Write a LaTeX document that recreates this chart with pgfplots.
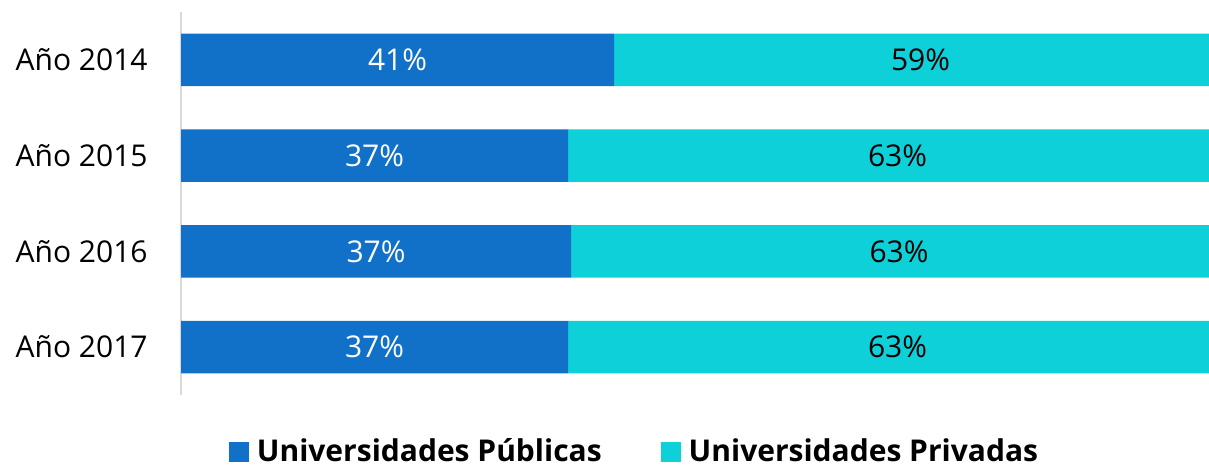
\documentclass[border=0pt]{standalone}
\usepackage{pgfplots}
\pgfplotsset{compat=1.18}
\usepackage{fontspec}
\setmainfont{Open Sans}
\definecolor{cblue}{HTML}{1170C8}
\definecolor{ccyan}{HTML}{0ED0D8}
\definecolor{axgray}{HTML}{D9D9D9}
\begin{document}
\begin{tikzpicture}
\path[use as bounding box] (0,0) rectangle (604.5bp,233.5bp);
\begin{axis}[
  at={(90.5bp,36bp)}, anchor=south west,
  scale only axis, width=523bp, height=191.5bp,
  xbar stacked, bar width=0.55,
  xmin=0, xmax=100, ymin=-0.5, ymax=3.5,
  axis x line=none, axis y line*=left,
  y axis line style={draw=axgray, line width=1bp},
  ytick={0,1,2,3}, yticklabels={Año 2017,Año 2016,Año 2015,Año 2014},
  major tick length=0pt,
  yticklabel style={font=\fontsize{15bp}{18bp}\selectfont, inner sep=0pt, xshift=-16.5bp},
  legend style={at={(axis description cs:0.4345,-0.1488)}, anchor=center, draw=none,
    font=\bfseries\fontsize{15bp}{17bp}\selectfont, legend columns=2,
    /tikz/every even column/.append style={column sep=27.5bp}},
  legend image code/.code={\fill[#1] (0bp,-5bp) rectangle (10bp,5bp); \path (12bp,0bp);},
]
\addplot[fill=cblue, draw=none] coordinates {(41.4,3) (37.0,2) (37.3,1) (37.0,0)};
\addplot[fill=ccyan, draw=none] coordinates {(58.6,3) (63.0,2) (62.7,1) (63.0,0)};
\legend{Universidades Públicas, Universidades Privadas}
\end{axis}
\begin{axis}[
  at={(90.5bp,36bp)}, anchor=south west,
  scale only axis, width=523bp, height=191.5bp,
  xmin=0, xmax=100, ymin=-0.5, ymax=3.5, hide axis,
]
\addplot[draw=none, nodes near coords, point meta=explicit symbolic, nodes near coords align={center},
  every node near coord/.append style={white, font=\fontsize{15bp}{18bp}\selectfont}]
  coordinates {(20.7,3)[41\%] (18.5,2)[37\%] (18.65,1)[37\%] (18.5,0)[37\%]};
\addplot[draw=none, nodes near coords, point meta=explicit symbolic, nodes near coords align={center},
  every node near coord/.append style={black, font=\fontsize{15bp}{18bp}\selectfont}]
  coordinates {(70.7,3)[59\%] (68.5,2)[63\%] (68.65,1)[63\%] (68.5,0)[63\%]};
\end{axis}
\end{tikzpicture}
\end{document}
